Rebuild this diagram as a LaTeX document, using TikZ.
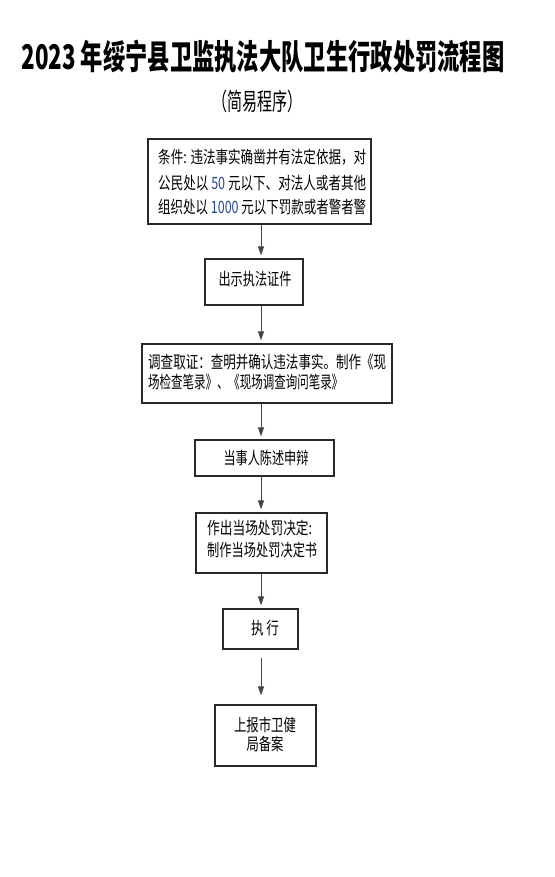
\documentclass[tikz,border=0pt]{standalone}
\usepackage{fontspec}
\usepackage{graphicx}
\setmainfont{Noto Sans CJK SC}
\usetikzlibrary{arrows.meta}
\definecolor{numblue}{RGB}{40,70,140}
\definecolor{boxline}{RGB}{40,40,40}
\definecolor{arrowgray}{RGB}{70,70,70}
\newcommand\fixw[2]{\resizebox{#1}{\height}{#2}}
\newcommand\nx[1]{\scalebox{0.74}[1]{#1}}
\begin{document}
\begin{tikzpicture}[x=1pt,y=-1pt,
  box/.style={draw=boxline, line width=1.2pt, rectangle, inner sep=0pt},
  txt/.style={inner sep=0pt, font=\fontsize{17}{17}\selectfont},
  arr/.style={draw=arrowgray, line width=1pt, -{Triangle[length=9pt,width=6pt]}, shorten >=3pt}]
\useasboundingbox[fill=white] (0,0) rectangle (554,877);

% title
\node[inner sep=0pt, font=\fontsize{34}{34}\selectfont\bfseries] (title) at (263,57)
  {\fixw{483pt}{2023 年绥宁县卫监执法大队卫生行政处罚流程图}};
\node[inner sep=0pt, font=\fontsize{24}{24}\selectfont] (subtitle) at (257,101)
  {\fixw{90pt}{（简易程序）}};

% boxes
\node[box, minimum width=223pt, minimum height=85pt] (b1) at (259.5,181.5) {};
\node[box, minimum width=98pt,  minimum height=46pt] (b2) at (254,282) {};
\node[box, minimum width=250pt, minimum height=59pt] (b3) at (267,373.5) {};
\node[box, minimum width=139pt, minimum height=36pt] (b4) at (264.5,458) {};
\node[box, minimum width=131pt, minimum height=60pt] (b5) at (261.5,543) {};
\node[box, minimum width=75pt,  minimum height=40pt] (b6) at (260.5,629) {};
\node[box, minimum width=101pt, minimum height=61pt] (b7) at (265.5,735.5) {};

% box texts
\node[txt, anchor=west] (t1a) at (158,157) {\fixw{208pt}{条件: 违法事实确凿并有法定依据，对}};
\node[txt, anchor=west] (t1b) at (158,183) {\fixw{208pt}{公民处以 {\color{numblue}50} 元以下、对法人或者其他}};
\node[txt, anchor=west] (t1c) at (158,207) {\fixw{208pt}{组织处以 {\color{numblue}1000} 元以下罚款或者警者警}};

\node[txt] (t2) at (255,279) {\fixw{73pt}{出示执法证件}};

\node[txt, anchor=west] (t3a) at (148,362) {\fixw{238pt}{调查取证：查明并确认违法事实。制作《现}};
\node[txt, anchor=west] (t3b) at (148,382) {\fixw{195pt}{场检查笔录》、《现场调查询问笔录》}};

\node[txt] (t4) at (266,458) {\fixw{85pt}{当事人陈述申辩}};

\node[txt, anchor=west] (t5a) at (207,528) {\fixw{105pt}{作出当场处罚决定:}};
\node[txt, anchor=west] (t5b) at (207,550) {\fixw{110pt}{制作当场处罚决定书}};

\node[txt] (t6) at (265,628) {\nx{执\ 行}};

\node[txt] (t7a) at (265,725) {\fixw{62pt}{上报市卫健}};
\node[txt] (t7b) at (265,744) {\fixw{37pt}{局备案}};

% connectors
\coordinate (ax) at (261,0);
\draw[arr] (b1.south -| ax) -- (b2.north -| ax);
\draw[arr] (b2.south -| ax) -- (b3.north -| ax);
\draw[arr] (b3.south -| ax) -- (b4.north -| ax);
\draw[arr] (b4.south -| ax) -- (b5.north -| ax);
\draw[arr] (b5.south -| ax) -- (b6.north -| ax);
\draw[arr, shorten <=8pt, shorten >=9pt] (b6.south -| ax) -- (b7.north -| ax);
\end{tikzpicture}
\end{document}
